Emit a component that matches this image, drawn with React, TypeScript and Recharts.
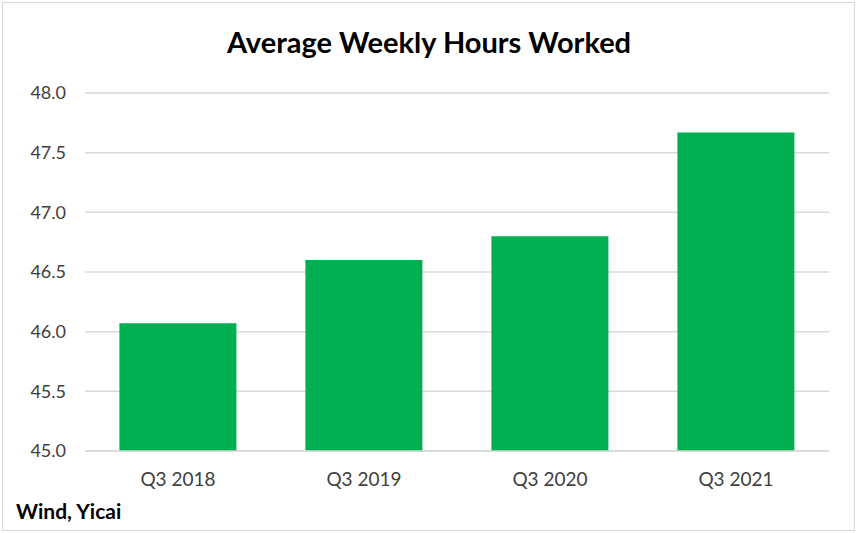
import React from "react";
import { BarChart, Bar, XAxis, YAxis, CartesianGrid } from "recharts";

const quarters = ["Q3 2018", "Q3 2019", "Q3 2020", "Q3 2021"];
const hours = [46.07, 46.6, 46.8, 47.67];
const yTicks = [45, 45.5, 46, 46.5, 47, 47.5, 48];

const data = quarters.map((q, i) => ({ quarter: q, hours: hours[i] }));

const font = "Lato, 'Open Sans', sans-serif";

export default function App() {
  return (
    <div
      style={{
        position: "fixed",
        left: 0,
        top: 0,
        width: 858,
        height: 533,
        background: "#fff",
        fontFamily: font,
      }}
    >
      <div
        style={{
          position: "absolute",
          left: 2,
          top: 2,
          width: 851,
          height: 527,
          border: "1px solid #d9d9d9",
        }}
      />
      <div
        style={{
          position: "absolute",
          left: 0,
          top: 24,
          width: 858,
          textAlign: "center",
          fontSize: 29,
          fontWeight: 700,
          color: "#000",
        }}
      >
        Average Weekly Hours Worked
      </div>
      <BarChart
        width={858}
        height={533}
        data={data}
        margin={{ top: 93, right: 29, bottom: 52, left: 25 }}
        barCategoryGap="18.5%"
      >
        <CartesianGrid vertical={false} stroke="#d9d9d9" strokeWidth={1.5} />
        <XAxis
          dataKey="quarter"
          height={30}
          axisLine={{ stroke: "#d9d9d9", strokeWidth: 1.5 }}
          tickLine={false}
          tickSize={0}
          tickMargin={22}
          tick={{ fill: "#404040", fontSize: 19, fontFamily: font }}
        />
        <YAxis
          width={60}
          domain={[45, 48]}
          ticks={yTicks}
          axisLine={false}
          tickLine={false}
          tickSize={0}
          tickMargin={19}
          tickFormatter={(v: number) => v.toFixed(1)}
          tick={{ fill: "#404040", fontSize: 18, fontFamily: font }}
        />
        <Bar dataKey="hours" fill="#00b050" isAnimationActive={false} />
      </BarChart>
      <div
        style={{
          position: "absolute",
          left: 16,
          top: 498,
          fontSize: 21,
          fontWeight: 700,
          color: "#000",
        }}
      >
        Wind, Yicai
      </div>
    </div>
  );
}
